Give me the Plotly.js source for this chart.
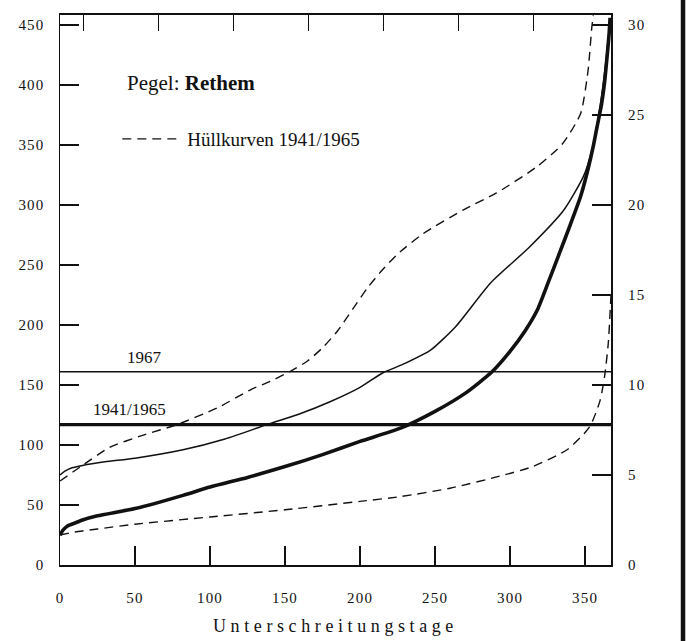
<!DOCTYPE html>
<html>
<head>
<meta charset="utf-8">
<script src="https://cdn.plot.ly/plotly-3.0.1.min.js"></script>
<style>
  html, body { margin: 0; padding: 0; background: #fff; }
  #chart { width: 691px; height: 641px; }
  #chart .xtitle { letter-spacing: 4.6px; }
  #chart .xtick text, #chart .ytick text, #chart .y2tick text { letter-spacing: 1.2px; }
</style>
</head>
<body>
<div id="chart"></div>
<script>
// Dauerlinien der Wasserstände, Pegel Rethem (Unterschreitungstage)
const meanDays = [0, 2, 5, 10, 15, 25, 50, 82, 100, 125, 150, 175, 200, 227, 250, 270, 288, 300, 310, 318, 325, 333, 340, 347, 352, 355.5, 358, 361, 363, 364.5, 366, 366.7];
const meanVals = [25, 29, 32.5, 35, 37.5, 41, 47, 58, 65, 73, 82, 92, 103, 114, 128, 143, 161, 178, 195, 212, 234, 260, 283, 307, 330, 349, 365, 384, 402, 421, 442, 456];

const y1967Days = [0, 3, 8, 15, 30, 50, 82, 110, 138, 160, 180, 200, 215, 230, 247, 264, 287, 313, 336, 349, 355, 360, 363, 366];
const y1967Vals = [75, 78, 81, 83, 86, 89, 96, 105, 117, 126, 136, 148, 160, 168, 179, 199, 235, 265, 296, 324, 348, 382, 410, 445];

const upperDays = [0, 15, 33, 55, 78, 105, 127, 140, 153, 165, 175, 185, 195, 205, 215, 225, 242, 269, 291, 318, 335, 347, 352, 354.5, 355.5];
const upperVals = [70, 83, 98, 108, 117, 131, 146, 153, 161, 170, 181, 195, 213, 231, 246, 259, 276, 296, 310, 332, 351, 376, 412, 448, 458];

const lowerDays = [0, 10, 25, 50, 100, 150, 200, 227, 260, 293, 315, 338, 353, 360, 363, 365.5, 367.3];
const lowerVals = [25, 27.5, 30, 34, 40, 46, 53, 57, 64, 74, 82, 96, 115, 137, 157, 185, 225];

// Mittelwerte als waagerechte Linien
const level1967 = 161;
const level4165 = 117;

const xTicks = [0, 50, 100, 150, 200, 250, 300, 350];
const yTicksLeft = [0, 50, 100, 150, 200, 250, 300, 350, 400, 450];
const yTicksRight = [0, 5, 10, 15, 20, 25, 30];
const topTicks = [15.5, 65.5, 115.5, 165.5, 215.5, 265.5, 315.5];

const X_MAX = 367.3;
const Y_MAX = 458.3;
const RIGHT_FACTOR = 15;   // linke Skala / rechte Skala

const INK = '#111';
const FONT = 'Liberation Serif, DejaVu Serif, serif';

const dashed = { color: INK, width: 1.4, dash: '9px,6px', shape: 'spline', smoothing: 0.6 };

const traces = [
  { x: lowerDays, y: lowerVals, mode: 'lines', showlegend: false, line: dashed },
  { x: upperDays, y: upperVals, mode: 'lines', name: 'Hüllkurven 1941/1965', showlegend: true, line: dashed },
  { x: y1967Days, y: y1967Vals, mode: 'lines', showlegend: false,
    line: { color: INK, width: 1.5, shape: 'spline', smoothing: 0.6 } },
  { x: meanDays, y: meanVals, mode: 'lines', showlegend: false,
    line: { color: INK, width: 3.6, shape: 'spline', smoothing: 0.6 } },
  { x: [0, X_MAX], y: [level1967, level1967], mode: 'lines', showlegend: false,
    xaxis: 'x2', line: { color: INK, width: 1.5 } },
  { x: [0, X_MAX], y: [level4165, level4165], mode: 'lines', showlegend: false,
    xaxis: 'x2', line: { color: INK, width: 3.4 } },
  // leere Spur, damit die rechte Skala (Faktor 1/15) gezeichnet wird
  { x: [], y: [], mode: 'lines', showlegend: false, yaxis: 'y2', hoverinfo: 'skip' }
];

const tickFont = { family: FONT, size: 15, color: INK };

const layout = {
  width: 691, height: 641,
  margin: { l: 60, r: 80, t: 15, b: 76 },
  paper_bgcolor: '#fff', plot_bgcolor: '#fff',
  font: { family: FONT, color: INK },
  xaxis: {
    range: [0, X_MAX], tickvals: xTicks, ticks: 'inside', ticklen: 19, tickwidth: 1.5,
    tickcolor: INK, showline: true, linecolor: INK, linewidth: 2,
    showgrid: false, zeroline: false, tickfont: tickFont, ticklabelstandoff: 18,
    title: { text: 'Unterschreitungstage', font: { family: FONT, size: 18, color: INK }, standoff: 14 }
  },
  xaxis2: {
    overlaying: 'x', side: 'top', anchor: 'y', range: [0, X_MAX], tickvals: topTicks,
    ticks: 'inside', ticklen: 16, tickwidth: 1.5, tickcolor: INK, showticklabels: false,
    showline: true, linecolor: INK, linewidth: 2, showgrid: false, zeroline: false
  },
  yaxis: {
    range: [0, Y_MAX], tickvals: yTicksLeft, ticks: 'inside', ticklen: 19, tickwidth: 1.5,
    tickcolor: INK, showline: true, linecolor: INK, linewidth: 1.5, showgrid: false,
    zeroline: false, tickfont: tickFont, ticklabelstandoff: 11
  },
  yaxis2: {
    overlaying: 'y', side: 'right', anchor: 'x', range: [0, Y_MAX / RIGHT_FACTOR],
    tickvals: yTicksRight, ticks: 'inside', ticklen: 19, tickwidth: 1.5, tickcolor: INK,
    showline: true, linecolor: INK, linewidth: 2, showgrid: false, zeroline: false,
    tickfont: tickFont, ticklabelstandoff: 12
  },
  showlegend: true,
  legend: {
    x: 0.104, y: 0.7745, xanchor: 'left', yanchor: 'middle', bgcolor: 'rgba(0,0,0,0)',
    borderwidth: 0, itemwidth: 60, font: { family: FONT, size: 19, color: INK }
  },
  annotations: [
    { x: 43, y: 402, xref: 'x', yref: 'y', xanchor: 'left', yanchor: 'middle', showarrow: false,
      text: 'Pegel: <b>Rethem</b>', font: { family: FONT, size: 21, color: INK } },
    { x: 56, y: level1967 + 2, xref: 'x', yref: 'y', xanchor: 'center', yanchor: 'bottom', showarrow: false,
      text: '1967', font: { family: FONT, size: 17, color: INK } },
    { x: 46, y: level4165 + 3, xref: 'x', yref: 'y', xanchor: 'center', yanchor: 'bottom', showarrow: false,
      text: '1941/1965', font: { family: FONT, size: 17, color: INK } }
  ],
  shapes: [
    { type: 'line', xref: 'paper', yref: 'paper', x0: 1.1307, x1: 1.1307, y0: -0.14, y1: 1.03,
      line: { color: INK, width: 4.5 } }
  ]
};

Plotly.newPlot('chart', traces, layout, { staticPlot: true, displayModeBar: false });
</script>
</body>
</html>
